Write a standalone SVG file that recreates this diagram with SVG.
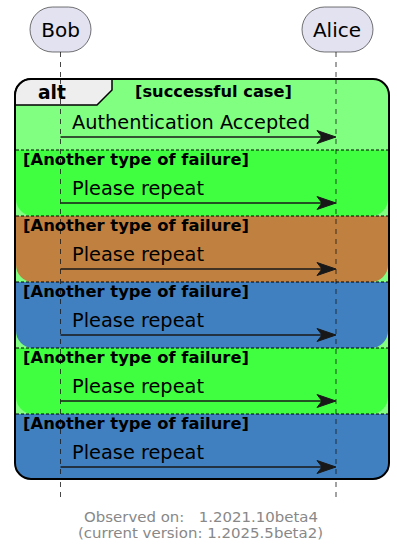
<svg xmlns="http://www.w3.org/2000/svg" width="397" height="553" viewBox="0 0 397 553">
<style>
.part{fill:#E2E2F0;stroke:#181818;stroke-width:0.6}
.ptxt{font-family:"DejaVu Sans",sans-serif;font-size:20px;fill:#000;text-anchor:middle}
.life{stroke:#181818;stroke-width:0.8;stroke-dasharray:5,5;fill:none}
.msg{stroke:#181818;stroke-width:1.5;fill:none}
.head{fill:#181818;stroke:#181818;stroke-width:1}
.mtxt{font-family:"DejaVu Sans",sans-serif;font-size:19px;fill:#000}
.lbl{font-family:"DejaVu Sans",sans-serif;font-size:16px;font-weight:bold;fill:#000}
.sep{stroke:#000;stroke-width:1;stroke-dasharray:3,2;fill:none}
.foot{font-family:"DejaVu Sans",sans-serif;font-size:14.5px;fill:#888888;text-anchor:middle;white-space:pre}
</style>
<defs>
<clipPath id="fc"><rect x="15" y="79" width="374" height="400" rx="16" ry="16"/></clipPath>
</defs>
<g id="lifelines">
<line class="life" x1="60.5" y1="52" x2="60.5" y2="497"/>
<line class="life" x1="336" y1="52" x2="336" y2="497"/>
</g>
<g id="alt-frame">
<rect x="15" y="79" width="374" height="400" rx="16" ry="16" fill="#80FF80"/>
<g clip-path="url(#fc)">
<path d="M16,150 H388 V199 A17,17 0 0 1 371,216 H33 A17,17 0 0 1 16,199 Z" fill="#40FF40"/>
<path d="M16,216 H388 V265 A17,17 0 0 1 371,282 H33 A17,17 0 0 1 16,265 Z" fill="#C08040"/>
<path d="M16,282 H388 V331 A17,17 0 0 1 371,348 H33 A17,17 0 0 1 16,331 Z" fill="#4080C0"/>
<path d="M16,348 H388 V397 A17,17 0 0 1 371,414 H33 A17,17 0 0 1 16,397 Z" fill="#40FF40"/>
<path d="M16,414 H388 V479 H16 Z" fill="#4080C0"/>
</g>
<path d="M15,105 V95 A16,16 0 0 1 31,79 H112 V90 L97,105 Z" fill="#EEEEEE" stroke="#000" stroke-width="1.5"/>
<line class="life" x1="60.5" y1="79" x2="60.5" y2="479"/>
<line class="life" x1="336" y1="79" x2="336" y2="479"/>
<line class="sep" x1="16" y1="150" x2="388" y2="150"/>
<line class="sep" x1="16" y1="216" x2="388" y2="216"/>
<line class="sep" x1="16" y1="282" x2="388" y2="282"/>
<line class="sep" x1="16" y1="348" x2="388" y2="348"/>
<line class="sep" x1="16" y1="414" x2="388" y2="414"/>
<rect x="15" y="79" width="374" height="400" rx="16" ry="16" fill="none" stroke="#000" stroke-width="2"/>
<text x="38" y="99" font-family="DejaVu Sans, sans-serif" font-size="18.7" font-weight="bold" fill="#000">alt</text>
<text class="lbl" x="135" y="97" textLength="157" lengthAdjust="spacingAndGlyphs">[successful case]</text>
<text class="lbl" x="23" y="165" textLength="226" lengthAdjust="spacingAndGlyphs">[Another type of failure]</text>
<text class="lbl" x="23" y="231" textLength="226" lengthAdjust="spacingAndGlyphs">[Another type of failure]</text>
<text class="lbl" x="23" y="297" textLength="226" lengthAdjust="spacingAndGlyphs">[Another type of failure]</text>
<text class="lbl" x="23" y="363" textLength="226" lengthAdjust="spacingAndGlyphs">[Another type of failure]</text>
<text class="lbl" x="23" y="429" textLength="226" lengthAdjust="spacingAndGlyphs">[Another type of failure]</text>
</g>
<g id="participant-bob">
<rect class="part" x="30" y="7" width="61" height="45" rx="22.5" ry="22.5"/>
<text class="ptxt" x="60.5" y="37">Bob</text>
</g>
<g id="participant-alice">
<rect class="part" x="302" y="7" width="71" height="45" rx="22.5" ry="22.5"/>
<text class="ptxt" x="337" y="37">Alice</text>
</g>
<g id="connectors">
<line class="msg" x1="60.5" y1="137" x2="332" y2="137"/>
<polygon class="head" points="317,130.5 336,137 317,143.5 322,137"/>
<text class="mtxt" x="72" y="129" textLength="238" lengthAdjust="spacingAndGlyphs">Authentication Accepted</text>
<line class="msg" x1="60.5" y1="203" x2="332" y2="203"/>
<polygon class="head" points="317,196.5 336,203 317,209.5 322,203"/>
<text class="mtxt" x="72" y="195" textLength="132" lengthAdjust="spacingAndGlyphs">Please repeat</text>
<line class="msg" x1="60.5" y1="269" x2="332" y2="269"/>
<polygon class="head" points="317,262.5 336,269 317,275.5 322,269"/>
<text class="mtxt" x="72" y="261" textLength="132" lengthAdjust="spacingAndGlyphs">Please repeat</text>
<line class="msg" x1="60.5" y1="335" x2="332" y2="335"/>
<polygon class="head" points="317,328.5 336,335 317,341.5 322,335"/>
<text class="mtxt" x="72" y="327" textLength="132" lengthAdjust="spacingAndGlyphs">Please repeat</text>
<line class="msg" x1="60.5" y1="401" x2="332" y2="401"/>
<polygon class="head" points="317,394.5 336,401 317,407.5 322,401"/>
<text class="mtxt" x="72" y="393" textLength="132" lengthAdjust="spacingAndGlyphs">Please repeat</text>
<line class="msg" x1="60.5" y1="467" x2="332" y2="467"/>
<polygon class="head" points="317,460.5 336,467 317,473.5 322,467"/>
<text class="mtxt" x="72" y="459" textLength="132" lengthAdjust="spacingAndGlyphs">Please repeat</text>
</g>
<g id="footer">
<text class="foot" x="201" y="522" textLength="234" lengthAdjust="spacingAndGlyphs">Observed on:   1.2021.10beta4</text>
<text class="foot" x="200.5" y="537.5" textLength="245" lengthAdjust="spacingAndGlyphs">(current version: 1.2025.5beta2)</text>
</g>
</svg>
